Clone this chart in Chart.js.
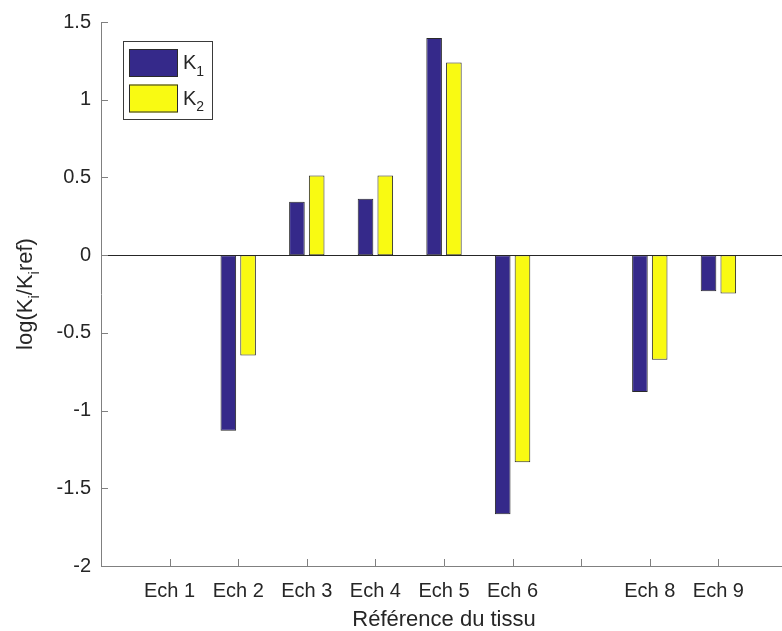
<!DOCTYPE html>
<html>
<head>
<meta charset="utf-8">
<script src="https://cdn.jsdelivr.net/npm/chart.js@4.4.1/dist/chart.umd.min.js"></script>
<style>
  html, body { margin: 0; padding: 0; background: #fff; overflow: hidden; }
  #wrap { position: relative; width: 800px; height: 631px; }
</style>
</head>
<body>
<div id="wrap"><canvas id="tissueChart"></canvas></div>
<script>
// Sample names on the x-axis (7th sample has no label in the figure)
var samples = ["Ech 1","Ech 2","Ech 3","Ech 4","Ech 5","Ech 6","","Ech 8","Ech 9"];
// log(Ki/Ki ref) per sample
var k1 = [0, -1.13, 0.344, 0.363, 1.397, -1.667, 0, -0.88, -0.233];
var k2 = [0, -0.645, 0.513, 0.513, 1.24, -1.333, 0, -0.673, -0.246];
var seriesNames = ["K1","K2"];
var yTicks = [-2, -1.5, -1, -0.5, 0, 0.5, 1, 1.5];

var textColor = "#262626";
Chart.defaults.font.family = '"Liberation Sans", Arial, sans-serif';

// empty slot on each side so sample n sits at x = n like in matlab
var labels = [""].concat(samples, [""]);
function pad(arr) { return [null].concat(arr, [null]); }

// draws main text + subscript part
function drawSub(ctx, x, y, main, sub, size) {
  ctx.font = size + 'px "Liberation Sans", Arial, sans-serif';
  ctx.fillText(main, x, y);
  var w = ctx.measureText(main).width;
  ctx.font = Math.round(size * 0.7) + 'px "Liberation Sans", Arial, sans-serif';
  ctx.fillText(sub, x + w, y + size * 0.33);
  return w + ctx.measureText(sub).width;
}

var matlabLook = {
  id: 'matlabLook',
  afterDatasetsDraw: function(chart) {
    var ctx = chart.ctx, a = chart.chartArea, xs = chart.scales.x, ys = chart.scales.y;
    ctx.save();
    // baseline at zero
    var y0 = Math.round(ys.getPixelForValue(0)) + 0.5;
    ctx.strokeStyle = textColor;
    ctx.lineWidth = 1;
    ctx.beginPath(); ctx.moveTo(a.left, y0); ctx.lineTo(a.right, y0); ctx.stroke();
    // ticks pointing inward
    ctx.strokeStyle = "#808080";
    ctx.beginPath();
    xs.ticks.forEach(function(t, i) {
      if (i === 0 || i === xs.ticks.length - 1) return;
      var px = Math.round(xs.getPixelForTick(i)) + 0.5;
      ctx.moveTo(px, a.bottom); ctx.lineTo(px, a.bottom - 7);
    });
    ys.ticks.forEach(function(t, i) {
      var py = Math.round(ys.getPixelForTick(i)) + 0.5;
      ctx.moveTo(a.left, py); ctx.lineTo(a.left + 7, py);
    });
    ctx.stroke();
    ctx.restore();
  },
  afterDraw: function(chart) {
    var ctx = chart.ctx, a = chart.chartArea;
    ctx.save();
    ctx.fillStyle = textColor;
    ctx.textBaseline = "alphabetic";
    ctx.textAlign = "left";

    // legend box
    var lx = a.left + 22, ly = a.top + 19;
    ctx.fillStyle = "#fff";
    ctx.fillRect(lx, ly, 89, 78);
    ctx.strokeStyle = "#3a3a3a";
    ctx.lineWidth = 1;
    ctx.strokeRect(lx + 0.5, ly + 0.5, 89, 78);
    chart.data.datasets.forEach(function(ds, i) {
      var top = ly + 8 + i * 35.5;
      ctx.fillStyle = ds.backgroundColor;
      ctx.fillRect(lx + 6, top, 49, 28);
      ctx.strokeStyle = ds.borderColor;
      ctx.strokeRect(lx + 6.5, top + 0.5, 48, 27);
      ctx.fillStyle = textColor;
      drawSub(ctx, lx + 60, top + 20, ds.label.charAt(0), ds.label.slice(1), 20);
    });

    // y-axis title, rotated, with subscripts
    ctx.translate(32, (a.top + a.bottom) / 2);
    ctx.rotate(-Math.PI / 2);
    var parts = [["log(K", "i"], ["/K", "i"], ["ref)", ""]];
    var total = 0;
    parts.forEach(function(p) {
      ctx.font = '22px "Liberation Sans", Arial, sans-serif';
      total += ctx.measureText(p[0]).width;
      ctx.font = '15px "Liberation Sans", Arial, sans-serif';
      total += ctx.measureText(p[1]).width;
    });
    var cx = -total / 2;
    parts.forEach(function(p) {
      cx += drawSub(ctx, cx, 0, p[0], p[1], 22);
    });
    ctx.restore();
  }
};

new Chart(document.getElementById("tissueChart"), {
  type: 'bar',
  data: {
    labels: labels,
    datasets: [
      {
        label: seriesNames[0],
        data: pad(k1),
        backgroundColor: "#35298a",
        borderColor: "#2a2a2a",
        borderWidth: 1,
        borderSkipped: false,
        categoryPercentage: 0.576,
        barPercentage: 0.79
      },
      {
        label: seriesNames[1],
        data: pad(k2),
        backgroundColor: "#f9fa12",
        borderColor: "#2a2a2a",
        borderWidth: 1,
        borderSkipped: false,
        categoryPercentage: 0.576,
        barPercentage: 0.79
      }
    ]
  },
  options: {
    responsive: true,
    maintainAspectRatio: false,
    animation: false,
    layout: { padding: { top: 19, right: 6, bottom: 0, left: 0 } },
    plugins: { legend: { display: false }, tooltip: { enabled: false } },
    scales: {
      x: {
        offset: false,
        grid: { display: false, drawTicks: false },
        border: { color: "#808080", width: 1 },
        ticks: { autoSkip: false, maxRotation: 0, padding: 13, color: textColor, font: { size: 20 } },
        title: { display: true, text: "Référence du tissu", color: textColor, font: { size: 22 }, padding: { top: 0, bottom: -2 } },
        afterFit: function(s) { s.height = 65; }
      },
      y: {
        min: -2,
        max: 1.5,
        afterBuildTicks: function(s) { s.ticks = yTicks.map(function(v) { return { value: v }; }); },
        grid: { display: false, drawTicks: false },
        border: { color: "#808080", width: 1 },
        ticks: {
          padding: 10,
          color: textColor,
          font: { size: 20 },
          callback: function(v) { return String(v); }
        },
        afterFit: function(s) { s.width = 101; }
      }
    }
  },
  plugins: [matlabLook]
});
</script>
</body>
</html>
